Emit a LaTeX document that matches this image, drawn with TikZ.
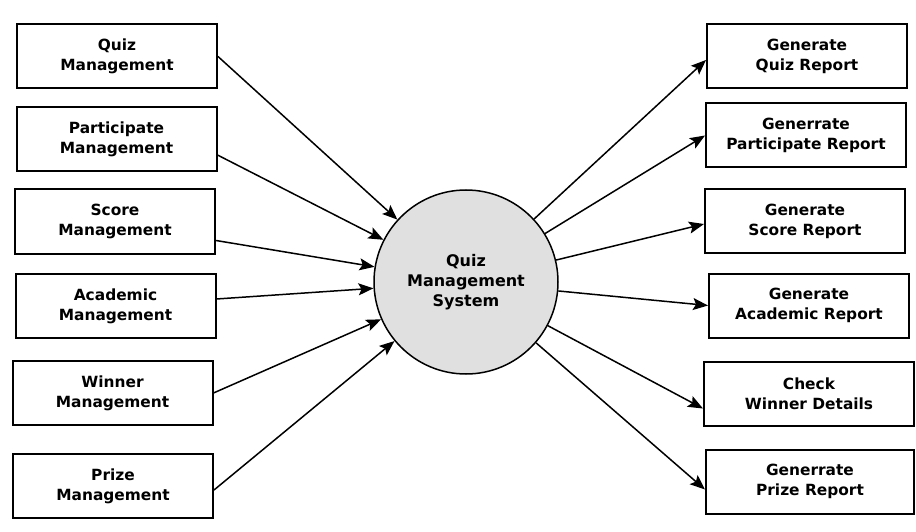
\documentclass[tikz,border=0pt]{standalone}
\usepackage{fontspec}
\setmainfont{DejaVu Sans}
\usetikzlibrary{arrows.meta}
\definecolor{Disc}{HTML}{E0E0E0}

\begin{document}
\begin{tikzpicture}[
      x=1pt, y=-1pt,
      >={Stealth[length=15pt,width=12pt,inset=3pt]},
      box/.style={draw, line width=2pt, fill=white,
                  minimum width=200pt, minimum height=64pt,
                  align=center, font=\bfseries\fontsize{15.4}{20}\selectfont},
      proc/.style={draw, circle, line width=1.5pt, fill=Disc,
                   minimum size=184pt, inner sep=0pt,
                   align=center, font=\bfseries\fontsize{16}{20}\selectfont},
      flow/.style={->, line width=1.5pt}
    ]
      \useasboundingbox (0,0) rectangle (916,532);
      % central process
      \node[proc] (qms) at (466,282) {Quiz\\Management\\System};
      % input side
      \node[box] (qm)  at (117,56.5)  {Quiz\\Management};
      \node[box] (pm)  at (116.5,139) {Participate\\Management};
      \node[box] (sm)  at (115,221.5) {Score\\Management};
      \node[box] (am)  at (115.5,306) {Academic\\Management};
      \node[box] (wm)  at (112.5,393) {Winner\\Management};
      \node[box] (prm) at (113,486)   {Prize\\Management};
      % report side
      \node[box] (gq)  at (807,56)    {Generate\\Quiz Report};
      \node[box] (gp)  at (806,135.5) {Generrate\\Participate Report};
      \node[box] (gs)  at (805,221)   {Generate\\Score Report};
      \node[box] (ga)  at (809,305.5) {Generate\\Academic Report};
      \node[box, minimum width=210pt] (cw)  at (809,393.5) {Check\\Winner Details};
      \node[box, minimum width=208pt] (gpr) at (810,481.5) {Generrate\\Prize Report};
      % flows in
      \draw[flow] (qm.east) -- (qms);
      \draw[flow] ([yshift=-16pt]pm.east) -- (qms);
      \draw[flow] ([yshift=-19pt]sm.east) -- (qms);
      \draw[flow] ([yshift=7pt]am.east) -- (qms);
      \draw[flow] (wm.east) -- (qms);
      \draw[flow] ([yshift=-4pt]prm.east) -- (qms);
      % flows out
      \draw[flow] (qms) -- ([yshift=-4pt]gq.west);
      \draw[flow] (qms) -- (gp.west);
      \draw[flow] (qms) -- ([yshift=-3pt]gs.west);
      \draw[flow] (qms) -- (ga.west);
      \draw[flow] (qms) -- ([yshift=-15pt]cw.west);
      \draw[flow] (qms) -- ([yshift=-8pt]gpr.west);
    \end{tikzpicture}
\end{document}
